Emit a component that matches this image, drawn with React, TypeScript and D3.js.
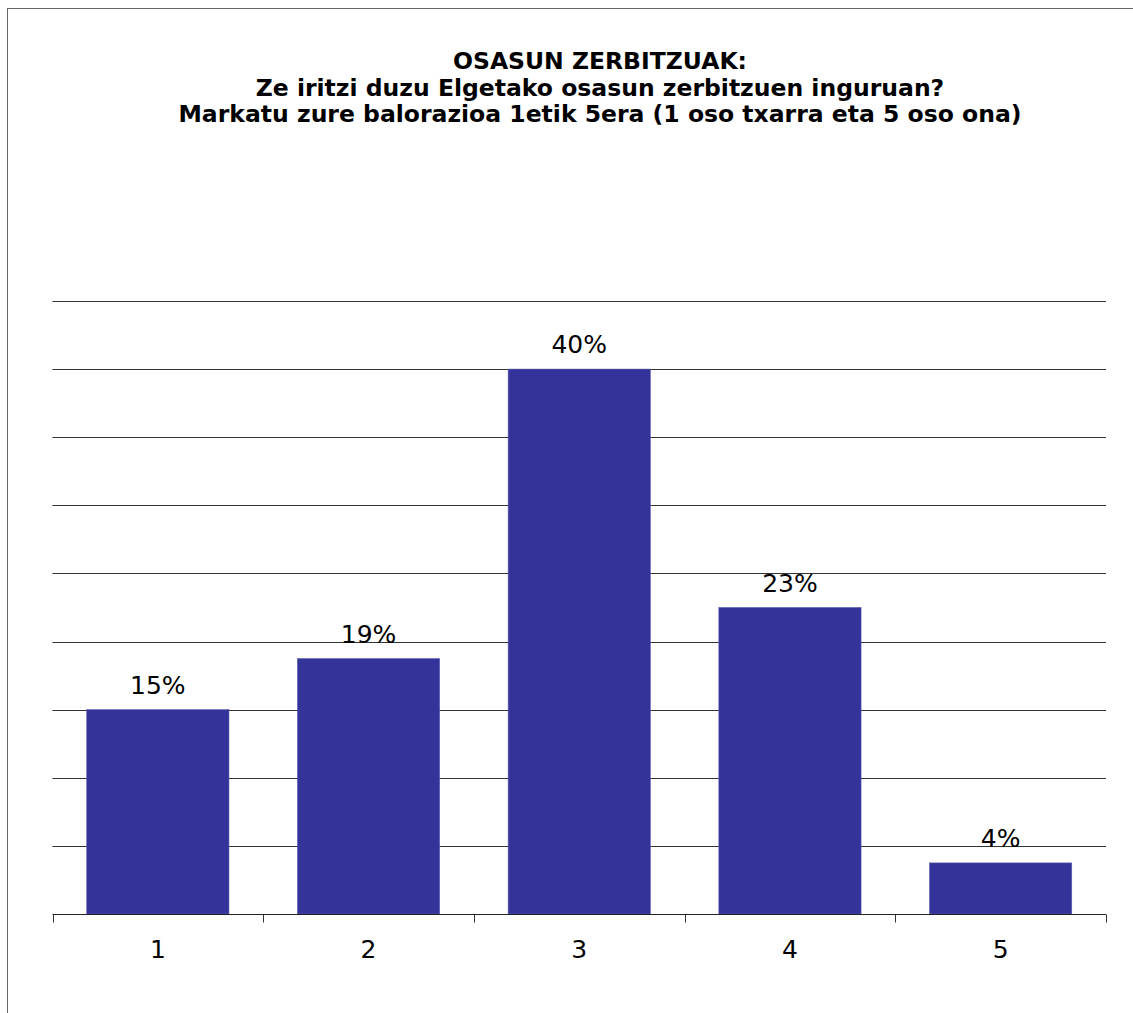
import * as d3 from "d3";
import { useEffect, useRef } from "react";

const W = 1133;
const H = 1013;

const categories = ["1", "2", "3", "4", "5"];
const values = [15, 18.75, 40, 22.5, 3.75];
const valueLabels = ["15%", "19%", "40%", "23%", "4%"];
const yTicks = [0, 5, 10, 15, 20, 25, 30, 35, 40, 45];
const titleLines = [
  "OSASUN ZERBITZUAK:",
  "Ze iritzi duzu Elgetako osasun zerbitzuen inguruan?",
  "Markatu zure balorazioa 1etik 5era (1 oso txarra eta 5 oso ona)",
];

const plot = { left: 52.5, right: 1106, top: 301, bottom: 914 };
const font = "Tahoma, 'DejaVu Sans', sans-serif";

export default function App() {
  const svgRef = useRef<SVGSVGElement>(null);

  useEffect(() => {
    const svg = d3.select(svgRef.current);
    svg.selectAll("*").remove();

    const x = d3
      .scaleBand()
      .domain(categories)
      .range([plot.left, plot.right])
      .paddingInner(0.325)
      .paddingOuter(0.1625);

    const y = d3.scaleLinear().domain([0, 45]).range([plot.bottom, plot.top]);

    // outer chart frame (right/bottom edge fall off the page)
    svg
      .append("rect")
      .attr("x", 7.5)
      .attr("y", 8.5)
      .attr("width", 1300)
      .attr("height", 1200)
      .attr("fill", "none")
      .attr("stroke", "#666");

    // title
    svg
      .append("g")
      .selectAll("text")
      .data(titleLines)
      .enter()
      .append("text")
      .attr("x", 600)
      .attr("y", (d, i) => 69 + i * 26.5)
      .attr("text-anchor", "middle")
      .style("font-family", font)
      .style("font-weight", "bold")
      .style("font-size", "23.5px")
      .attr("fill", "#000")
      .text(d => d);

    // gridlines
    svg
      .append("g")
      .selectAll("line")
      .data(yTicks.slice(1))
      .enter()
      .append("line")
      .attr("x1", plot.left)
      .attr("x2", plot.right)
      .attr("y1", d => Math.round(y(d)) + 0.5)
      .attr("y2", d => Math.round(y(d)) + 0.5)
      .attr("stroke", "#333")
      .attr("stroke-width", 1);

    // bars
    svg
      .append("g")
      .selectAll("rect")
      .data(values)
      .enter()
      .append("rect")
      .attr("x", (d, i) => x(categories[i])!)
      .attr("y", d => y(d))
      .attr("width", x.bandwidth())
      .attr("height", d => y(0) - y(d))
      .attr("fill", "#333399")
      .attr("stroke", "#5a5aae")
      .attr("stroke-width", 0.6);

    // value labels
    svg
      .append("g")
      .selectAll("text")
      .data(values)
      .enter()
      .append("text")
      .attr("x", (d, i) => x(categories[i])! + x.bandwidth() / 2)
      .attr("y", d => y(d) - 16)
      .attr("text-anchor", "middle")
      .style("font-family", font)
      .style("font-size", "25px")
      .attr("fill", "#000")
      .text((d, i) => valueLabels[i]);

    // x axis
    const xAxis = d3
      .axisBottom(x)
      .tickSize(0)
      .tickPadding(26);

    const gx = svg
      .append("g")
      .attr("transform", `translate(0,${plot.bottom + 0.5})`)
      .call(xAxis);
    gx.select(".domain").remove();
    gx.selectAll("text")
      .style("font-family", font)
      .style("font-size", "25px")
      .attr("fill", "#000");

    gx.append("line")
      .attr("x1", plot.left)
      .attr("x2", plot.right)
      .attr("stroke", "#222");

    const step = x.step();
    const bounds = d3.range(categories.length + 1).map(i => plot.left + i * step);
    gx.selectAll(".bound")
      .data(bounds)
      .enter()
      .append("line")
      .attr("class", "bound")
      .attr("x1", d => Math.round(d) + 0.5)
      .attr("x2", d => Math.round(d) + 0.5)
      .attr("y1", 0)
      .attr("y2", 8)
      .attr("stroke", "#333");
  }, []);

  return (
    <svg
      ref={svgRef}
      width={W}
      height={H}
      style={{ position: "fixed", left: 0, top: 0, display: "block", background: "#fff" }}
    ></svg>
  );
}
